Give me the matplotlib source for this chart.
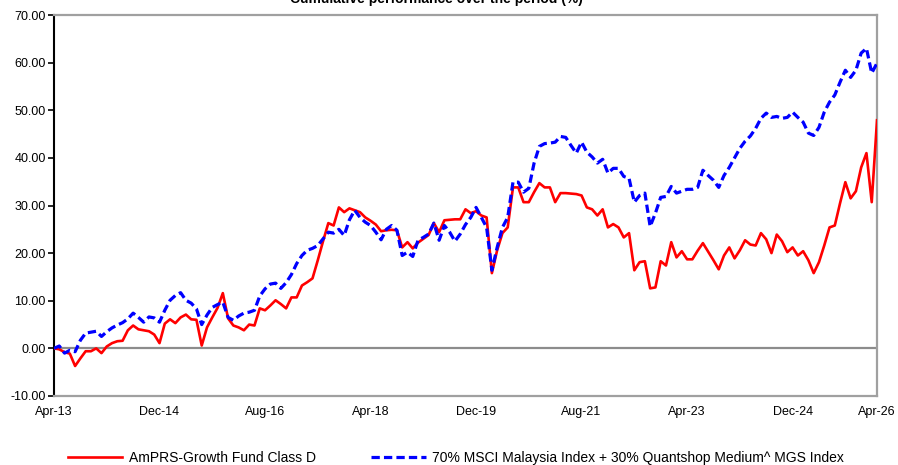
import matplotlib
matplotlib.use("Agg")
import matplotlib.pyplot as plt

plt.rcParams['font.family'] = ['Liberation Sans', 'DejaVu Sans']

# month index 0 = Apr-13 ... 156 = Apr-26
tick_months = [0, 20, 40, 60, 80, 100, 120, 140, 156]
tick_labels = ['Apr-13', 'Dec-14', 'Aug-16', 'Apr-18', 'Dec-19',
               'Aug-21', 'Apr-23', 'Dec-24', 'Apr-26']

fund_name = 'AmPRS-Growth Fund Class D'
bench_name = '70% MSCI Malaysia Index + 30% Quantshop Medium^ MGS Index'

fund = [
    0, -0.2, -0.8, -1.1, -3.7, -2.1, -0.6, -0.6, 0, -1.0,
    0.4, 1.1, 1.5, 1.6, 3.8, 4.8, 4.0, 3.8, 3.6, 2.9,
    1.1, 5.2, 6.1, 5.3, 6.5, 7.1, 6.1, 6.0, 0.6, 4.4,
    6.5, 8.5, 11.6, 6.3, 4.8, 4.4, 3.8, 5.0, 4.8, 8.4,
    8.0, 9.0, 10.1, 9.3, 8.4, 10.7, 10.7, 13.2, 13.9, 14.7,
    18.5, 22.5, 26.3, 25.8, 29.6, 28.6, 29.4, 29.0, 28.6, 27.5,
    26.8, 26.0, 24.6, 24.8, 24.9, 24.8, 21.2, 22.3, 21.0, 22.2,
    23.0, 23.8, 26.3, 24.4, 26.9, 27.0, 27.1, 27.1, 29.2, 28.4,
    28.8, 27.9, 27.5, 15.8, 20.6, 24.2, 25.4, 33.8, 33.8, 30.7,
    30.7, 32.8, 34.7, 33.8, 33.8, 30.7, 32.6, 32.6, 32.5, 32.4,
    32.1, 29.6, 29.2, 27.9, 29.2, 25.4, 26.1, 25.4, 23.3, 24.2,
    16.4, 18.1, 18.3, 12.6, 12.8, 18.3, 17.4, 22.3, 19.1, 20.4,
    18.7, 18.7, 20.5, 22.1, 20.3, 18.5, 16.6, 19.5, 21.2, 18.9,
    20.6, 22.7, 21.8, 21.6, 24.2, 22.9, 20.0, 23.9, 22.5, 20.2,
    21.2, 19.5, 20.4, 18.5, 15.8, 18.1, 21.6, 25.4, 25.8, 30.5,
    34.9, 31.5, 33.0, 38.0, 41.0, 30.7, 47.9,
]

bench = [
    0, 0.5, -1.0, -0.4, -0.7, 1.7, 3.2, 3.4, 3.6, 2.5,
    3.5, 4.3, 4.9, 5.4, 6.2, 7.4, 6.5, 5.5, 6.6, 6.4,
    5.5, 8.0, 10.1, 11.1, 11.7, 10.1, 9.5, 8.3, 5.0, 7.0,
    8.6, 9.2, 9.7, 6.5, 5.9, 6.8, 7.4, 7.6, 8.0, 11.0,
    12.5, 13.5, 13.7, 12.6, 13.8, 15.5, 17.8, 19.5, 20.6, 21.0,
    21.6, 23.0, 24.4, 24.2, 25.0, 23.7, 27.0, 29.0, 27.5, 26.5,
    25.8, 24.4, 22.8, 25.0, 25.8, 24.8, 19.5, 20.2, 19.3, 22.7,
    23.3, 24.0, 26.3, 22.7, 25.8, 24.4, 22.5, 24.0, 26.0, 27.5,
    29.6, 27.5, 25.4, 16.4, 21.2, 25.4, 27.5, 34.9, 34.9, 32.8,
    33.6, 38.9, 42.4, 43.0, 43.1, 43.3, 44.5, 44.3, 42.6, 41.0,
    43.3, 41.2, 40.2, 38.9, 39.7, 36.8, 37.8, 37.8, 36.1, 35.7,
    30.7, 32.1, 32.6, 25.6, 28.4, 31.7, 31.9, 34.0, 32.6, 33.0,
    33.4, 33.4, 33.8, 37.4, 36.3, 35.3, 33.8, 36.3, 38.0, 40.0,
    42.0, 43.5, 44.6, 46.2, 48.3, 49.4, 48.5, 48.7, 48.3, 48.5,
    49.6, 48.5, 47.5, 45.2, 44.7, 46.4, 49.6, 51.7, 53.2, 55.9,
    58.4, 56.9, 58.4, 62.0, 63.0, 57.8, 59.9,
]

months = list(range(len(fund)))

fig = plt.figure(figsize=(8.98, 4.65), dpi=100)
ax = fig.add_axes([54 / 898, 1 - 396 / 465, (877 - 54) / 898, (396 - 15) / 465])

ax.axhline(0, color='#8c8c8c', linewidth=1.6, zorder=1)
ax.plot(months, fund, color='#ff0000', linewidth=1.9, label=fund_name, zorder=3)
ax.plot(months, bench, color='#0000ff', linewidth=2.3, linestyle=(0, (2.6, 1.3)),
        label=bench_name, zorder=4)

ax.set_xlim(0, 156)
ax.set_ylim(-10, 70)
ax.set_yticks(range(-10, 71, 10))
ax.set_yticklabels([f'{v:.2f}' for v in range(-10, 71, 10)])
ax.set_xticks(tick_months)
ax.set_xticklabels(tick_labels)
ax.tick_params(axis='y', length=4, width=1.2, color='black', labelsize=9, pad=2)
ax.tick_params(axis='x', length=0, labelsize=9, pad=7)

for side in ['top', 'right', 'bottom']:
    ax.spines[side].set_color('#a0a0a0')
    ax.spines[side].set_linewidth(1.6)
ax.spines['left'].set_color('black')
ax.spines['left'].set_linewidth(1.5)

# title sits partly above the canvas, as in the source image
fig.text(436 / 898, 1 + 1 / 465, 'Cumulative performance over the period (%)',
         ha='center', va='center', fontsize=10, fontweight='bold')

fig.legend(loc='center', bbox_to_anchor=(456 / 898, 1 - 458 / 465), ncol=2,
           frameon=False, fontsize=10, handlelength=3.9, handletextpad=0.5,
           columnspacing=4.0)

fig.savefig('out.png', dpi=100, facecolor='white')
